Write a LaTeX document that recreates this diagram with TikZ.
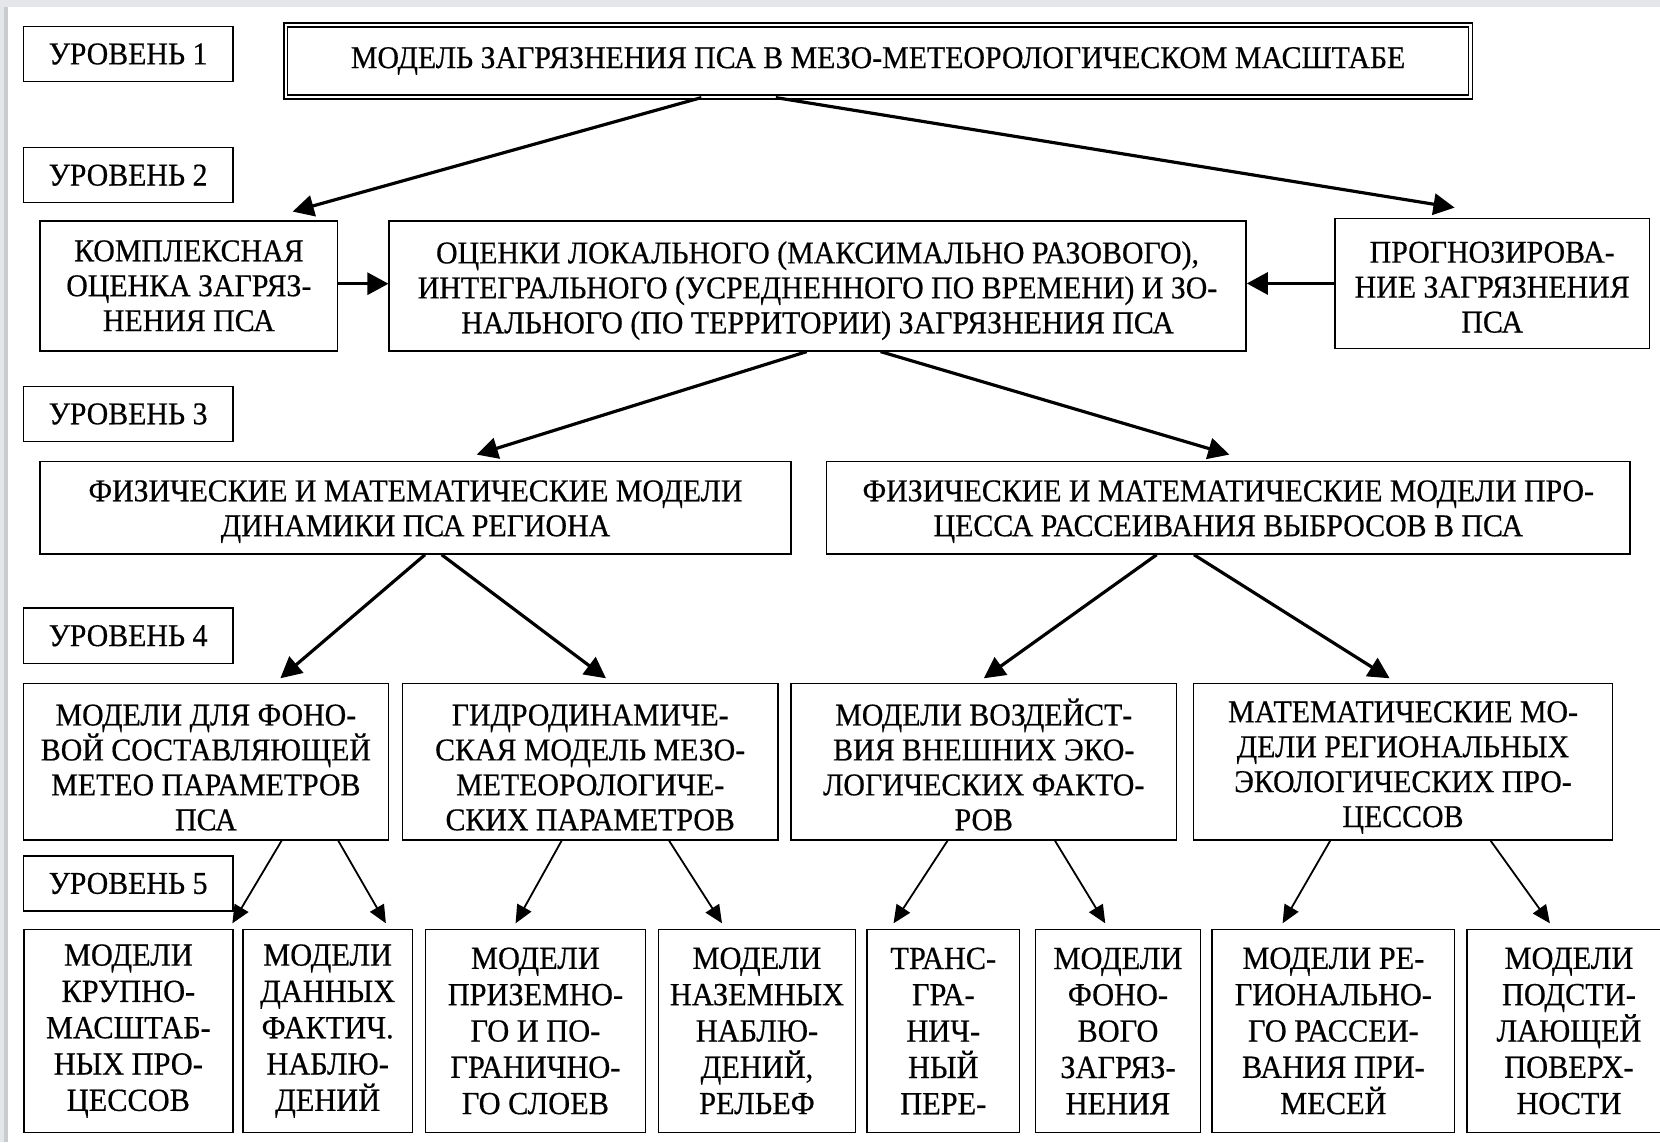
\documentclass[tikz,border=0pt]{standalone}
\usepackage{fontspec}
\setmainfont[FakeStretch=0.94,FakeBold=0.5]{Liberation Serif}
\usetikzlibrary{arrows.meta}
\definecolor{bandtop}{RGB}{228,230,233}
\definecolor{bandleft}{RGB}{200,204,208}
\newcommand\lowstrut[1]{\rule{0pt}{#1}}
\begin{document}
\begin{tikzpicture}[x=1pt,y=-1pt,
  box/.style={draw,line width=1.4pt,align=center,inner sep=0pt,
     font=\fontsize{30}{33}\selectfont},
  lvl/.style={box,minimum width=198pt,minimum height=52pt},
  rowfour/.style={box,minimum height=148pt},
  rowfive/.style={box,minimum height=192pt,font=\fontsize{30.5}{34.3}\selectfont},
  bigarrow/.style={line width=3pt,-{Triangle[length=20pt,width=20pt]}},
  sidearrow/.style={line width=2.6pt,-{Triangle[length=20pt,width=21pt]}},
  thinarrow/.style={line width=1.7pt,-{Triangle[length=17pt,width=15pt]}},
  ]
\useasboundingbox (0,0) rectangle (1568,1079);
\fill[white] (0,0) rectangle (1568,1079);
\fill[bandtop] (0,0) rectangle (1568,6.5);
\fill[bandtop] (0,0) rectangle (4,1079);
\fill[bandleft] (4,6.5) rectangle (7.5,1079);

% level labels
\node[lvl] (u1) at (121,51) {УРОВЕНЬ 1};
\node[lvl] (u2) at (121,165.5) {УРОВЕНЬ 2};
\node[lvl] (u3) at (121,391) {УРОВЕНЬ 3};
\node[lvl] (u4) at (121,600.5) {УРОВЕНЬ 4};
\node[lvl] (u5) at (121,834.5) {УРОВЕНЬ 5};

% level 1
\node[box,double,double distance=2.4pt,line width=1.2pt,
      minimum width=1119pt,minimum height=68pt] (t) at (829.5,57.6)
  {МОДЕЛЬ ЗАГРЯЗНЕНИЯ ПСА В МЕЗО-МЕТЕОРОЛОГИЧЕСКОМ МАСШТАБЕ};

% level 2
\node[box,minimum width=280.8pt,minimum height=122.9pt] (l2a) at (178.4,270)
  {КОМПЛЕКСНАЯ\\ОЦЕНКА ЗАГРЯЗ-\\НЕНИЯ ПСА};
\node[box,minimum width=809.4pt,minimum height=122.9pt] (l2b) at (772.3,270)
  {\lowstrut{30pt}ОЦЕНКИ ЛОКАЛЬНОГО (МАКСИМАЛЬНО РАЗОВОГО),\\ИНТЕГРАЛЬНОГО (УСРЕДНЕННОГО ПО ВРЕМЕНИ) И ЗО-\\НАЛЬНОГО (ПО ТЕРРИТОРИИ) ЗАГРЯЗНЕНИЯ ПСА};
\node[box,minimum width=297pt,minimum height=122.9pt] (l2c) at (1409.5,267.75)
  {\lowstrut{27pt}ПРОГНОЗИРОВА-\\НИЕ ЗАГРЯЗНЕНИЯ\\ПСА};

% level 3
\node[box,minimum width=709pt,minimum height=87.2pt] (l3a) at (392.5,479.7)
  {\lowstrut{27pt}ФИЗИЧЕСКИЕ И МАТЕМАТИЧЕСКИЕ МОДЕЛИ\\ДИНАМИКИ ПСА РЕГИОНА};
\node[box,minimum width=759pt,minimum height=87.2pt] (l3b) at (1160.25,479.7)
  {\lowstrut{27pt}ФИЗИЧЕСКИЕ И МАТЕМАТИЧЕСКИЕ МОДЕЛИ ПРО-\\ЦЕССА РАССЕИВАНИЯ ВЫБРОСОВ В ПСА};

% level 4
\node[rowfour,minimum width=345pt] (l4a) at (194.5,719.4)
  {\lowstrut{31pt}МОДЕЛИ ДЛЯ ФОНО-\\ВОЙ СОСТАВЛЯЮЩЕЙ\\МЕТЕО ПАРАМЕТРОВ\\ПСА};
\node[rowfour,minimum width=355pt] (l4b) at (557.5,719.4)
  {\lowstrut{31pt}ГИДРОДИНАМИЧЕ-\\СКАЯ МОДЕЛЬ МЕЗО-\\МЕТЕОРОЛОГИЧЕ-\\СКИХ ПАРАМЕТРОВ};
\node[rowfour,minimum width=364.5pt] (l4c) at (929.25,719.4)
  {\lowstrut{31pt}МОДЕЛИ ВОЗДЕЙСТ-\\ВИЯ ВНЕШНИХ ЭКО-\\ЛОГИЧЕСКИХ ФАКТО-\\РОВ};
\node[rowfour,minimum width=395.5pt] (l4d) at (1325.25,719.4)
  {\lowstrut{31pt}МАТЕМАТИЧЕСКИЕ МО-\\ДЕЛИ РЕГИОНАЛЬНЫХ\\ЭКОЛОГИЧЕСКИХ ПРО-\\ЦЕССОВ};

% level 5
\node[rowfive,minimum width=197.5pt] (b1) at (121.25,973.85)
  {МОДЕЛИ\\КРУПНО-\\МАСШТАБ-\\НЫХ ПРО-\\ЦЕССОВ};
\node[rowfive,minimum width=160pt] (b2) at (309.5,973.85)
  {МОДЕЛИ\\ДАННЫХ\\ФАКТИЧ.\\НАБЛЮ-\\ДЕНИЙ};
\node[rowfive,minimum width=207.5pt] (b3) at (505.75,973.85)
  {МОДЕЛИ\\ПРИЗЕМНО-\\ГО И ПО-\\ГРАНИЧНО-\\ГО СЛОЕВ};
\node[rowfive,minimum width=186pt] (b4) at (715,973.85)
  {МОДЕЛИ\\НАЗЕМНЫХ\\НАБЛЮ-\\ДЕНИЙ,\\РЕЛЬЕФ};
\node[rowfive,minimum width=144pt] (b5) at (891,973.85)
  {ТРАНС-\\ГРА-\\НИЧ-\\НЫЙ\\ПЕРЕ-};
\node[rowfive,minimum width=156pt] (b6) at (1056,973.85)
  {МОДЕЛИ\\ФОНО-\\ВОГО\\ЗАГРЯЗ-\\НЕНИЯ};
\node[rowfive,minimum width=229pt] (b7) at (1259.5,973.85)
  {МОДЕЛИ РЕ-\\ГИОНАЛЬНО-\\ГО РАССЕИ-\\ВАНИЯ ПРИ-\\МЕСЕЙ};
\node[rowfive,minimum width=193pt] (b8) at (1482,973.85)
  {МОДЕЛИ\\ПОДСТИ-\\ЛАЮЩЕЙ\\ПОВЕРХ-\\НОСТИ};

% connectors level 1 -> 2
\draw[bigarrow] ([xshift=-167pt]t.south) -- ([xshift=98pt,yshift=8pt]l2a.north);
\draw[bigarrow] ([xshift=-96.7pt]t.south) -- ([xshift=-35.5pt,yshift=9.5pt]l2c.north);
\draw[sidearrow] ([yshift=2pt]l2a.east) -- ([yshift=2pt]l2b.west);
\draw[sidearrow] (l2c.west) -- (l2b.east |- l2c.west);

% level 2 -> 3
\draw[bigarrow] ([xshift=-10.3pt]l2b.south) -- ([xshift=57.7pt,yshift=6pt]l3a.north);
\draw[bigarrow] ([xshift=59.5pt]l2b.south) -- ([xshift=1pt,yshift=6pt]l3b.north);

% level 3 -> 4
\draw[bigarrow] ([xshift=8.9pt]l3a.south) -- ([xshift=70.3pt,yshift=4pt]l4a.north);
\draw[bigarrow] ([xshift=24.7pt]l3a.south) -- ([xshift=14.9pt,yshift=4pt]l4b.north);
\draw[bigarrow] ([xshift=-67.75pt]l3b.south) -- ([xshift=0pt,yshift=4pt]l4c.north);
\draw[bigarrow] ([xshift=-32.45pt]l3b.south) -- ([xshift=-12.65pt,yshift=4pt]l4d.north);

% level 4 -> 5
\draw[thinarrow] ([xshift=71.5pt]l4a.south) -- ([xshift=98.25pt,yshift=5pt]b1.north);
\draw[thinarrow] ([xshift=125pt]l4a.south) -- ([xshift=55pt,yshift=5pt]b2.north);
\draw[thinarrow] ([xshift=-27pt]l4b.south) -- ([xshift=-18.75pt,yshift=5pt]b3.north);
\draw[thinarrow] ([xshift=74.5pt]l4b.south) -- ([xshift=-33pt,yshift=5pt]b4.north);
\draw[thinarrow] ([xshift=-34.25pt]l4c.south) -- ([xshift=-47pt,yshift=5pt]b5.north);
\draw[thinarrow] ([xshift=67.25pt]l4c.south) -- ([xshift=-12pt,yshift=5pt]b6.north);
\draw[thinarrow] ([xshift=-68.75pt]l4d.south) -- ([xshift=-48pt,yshift=5pt]b7.north);
\draw[thinarrow] ([xshift=82.75pt]l4d.south) -- ([xshift=-18pt,yshift=5pt]b8.north);
\end{tikzpicture}
\end{document}
